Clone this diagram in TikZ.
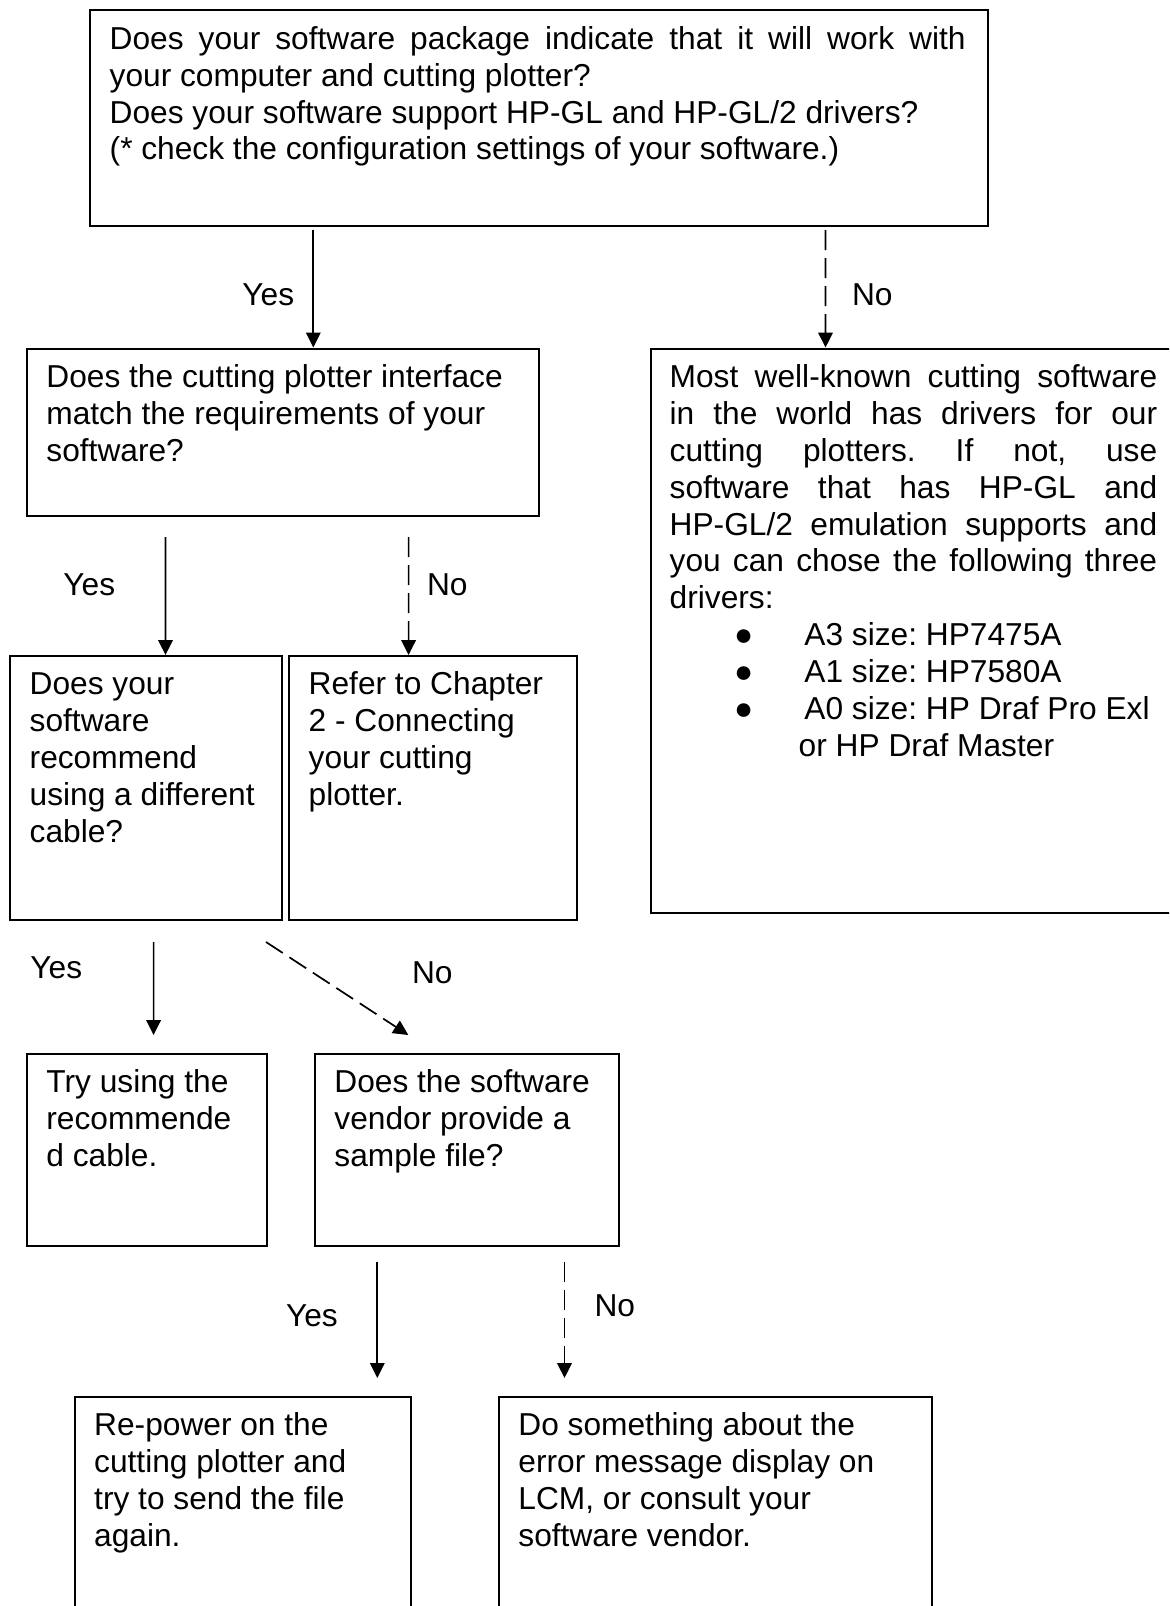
\documentclass[tikz,border=0pt]{standalone}
\usepackage{fontspec}
\setmainfont{Liberation Sans}
\usetikzlibrary{arrows.meta}
\newdimen\pxu \pxu=0.5pt
\newcommand\bodyfont{\fontsize{15.85pt}{18.45pt}\selectfont\frenchspacing}
\newcommand\jline[2]{\makebox[#1\pxu][s]{#2}}
\setlength{\parindent}{0pt}
\frenchspacing
\tikzset{
  box/.style={draw, line width=1pt, rectangle, inner sep=0pt, anchor=north west},
  txt/.style={anchor=north west, inner sep=0pt, align=left, font=\bodyfont},
  lbl/.style={anchor=base west, inner sep=0pt, font=\bodyfont},
  yesarrow/.style={line width=0.85pt, -{Triangle[length=7.5pt,width=7.3pt]}},
  noarrow/.style={yesarrow, dash pattern=on 10pt off 4pt},
}
\begin{document}
\begin{tikzpicture}[x=0.5pt,y=-0.5pt]
\useasboundingbox (0,0) rectangle (1169,1606);
\fill[white] (0,0) rectangle (1169,1606);
\clip (0,0) rectangle (1169,1606);

% boxes
\node[box, minimum width=897.3\pxu, minimum height=215.7\pxu] (b1) at (89.3,9.3) {};
\node[box, minimum width=512\pxu, minimum height=167.5\pxu] (b2) at (26,347.5) {};
\node[box, minimum width=540\pxu, minimum height=564.5\pxu] (b3) at (650,347.5) {};
\node[box, minimum width=272\pxu, minimum height=264\pxu] (b3a) at (9.3,655) {};
\node[box, minimum width=288\pxu, minimum height=264\pxu] (b3b) at (288.3,655) {};
\node[box, minimum width=240\pxu, minimum height=192.3\pxu] (b4a) at (26,1052.7) {};
\node[box, minimum width=304\pxu, minimum height=192.3\pxu] (b4b) at (314,1052.7) {};
\node[box, minimum width=336.2\pxu, minimum height=260\pxu] (b5a) at (73.8,1395.7) {};
\node[box, minimum width=432.6\pxu, minimum height=260\pxu] (b5b) at (498,1395.7) {};

% texts
\node[txt] (t1) at ([xshift=20\pxu,yshift=-13.7\pxu]b1.north west)
  {\strut\jline{856}{Does your software package indicate that it will work with}\\
   your computer and cutting plotter?\\
   Does your software support HP-GL and HP-GL/2 drivers?\\
   (* check the configuration settings of your software.)};
\node[txt] (t2) at ([xshift=20\pxu,yshift=-13.7\pxu]b2.north west)
  {\strut Does the cutting plotter interface\\
   match the requirements of your\\
   software?};
\node[txt] (t3) at ([xshift=19.3\pxu,yshift=-13.7\pxu]b3.north west)
  {\strut\jline{487.5}{Most well-known cutting software}\\
   \jline{487.5}{in the world has drivers for our}\\
   \jline{487.5}{cutting plotters. If not, use}\\
   \jline{487.5}{software that has HP-GL and}\\
   \jline{487.5}{HP-GL/2 emulation supports and}\\
   \jline{487.5}{you can chose the following three}\\
   drivers:\\
   \hspace*{64.3\pxu}\makebox[70.4\pxu][l]{●}A3 size: HP7475A\\
   \hspace*{64.3\pxu}\makebox[70.4\pxu][l]{●}A1 size: HP7580A\\
   \hspace*{64.3\pxu}\makebox[70.4\pxu][l]{●}A0 size: HP Draf Pro Exl\\
   \hspace*{129\pxu}or HP Draf Master};
\node[txt] (t3a) at ([xshift=20\pxu,yshift=-13.7\pxu]b3a.north west)
  {\strut Does your\\ software\\ recommend\\ using a different\\ cable?};
\node[txt] (t3b) at ([xshift=20\pxu,yshift=-13.7\pxu]b3b.north west)
  {\strut Refer to Chapter\\ 2 - Connecting\\ your cutting\\ plotter.};
\node[txt] (t4a) at ([xshift=20\pxu,yshift=-13.7\pxu]b4a.north west)
  {\strut Try using the\\ recommende\\ d cable.};
\node[txt] (t4b) at ([xshift=20\pxu,yshift=-13.7\pxu]b4b.north west)
  {\strut Does the software\\ vendor provide a\\ sample file?};
\node[txt] (t5a) at ([xshift=20\pxu,yshift=-13.7\pxu]b5a.north west)
  {\strut Re-power on the\\ cutting plotter and\\ try to send the file\\ again.};
\node[txt] (t5b) at ([xshift=20\pxu,yshift=-13.7\pxu]b5b.north west)
  {\strut Do something about the\\ error message display on\\ LCM, or consult your\\ software vendor.};

% connectors
\draw[yesarrow] ([xshift=224\pxu,yshift=-3\pxu]b1.south west) -- ([xshift=287.3\pxu]b2.north west);
\draw[noarrow] ([xshift=736.2\pxu,yshift=-3\pxu]b1.south west) -- ([xshift=175.5\pxu]b3.north west);
\draw[yesarrow] ([xshift=139.5\pxu,yshift=-20\pxu]b2.south west) -- ([xshift=156.2\pxu]b3a.north west);
\draw[noarrow] ([xshift=382.6\pxu,yshift=-20\pxu]b2.south west) -- ([xshift=120.3\pxu]b3b.north west);
\draw[yesarrow] ([xshift=144.3\pxu,yshift=-21\pxu]b3a.south west) -- ([xshift=127.6\pxu,yshift=17.7\pxu]b4a.north west);
\draw[noarrow] ([xshift=256.7\pxu,yshift=-21\pxu]b3a.south west) -- ([xshift=94.3\pxu,yshift=17.7\pxu]b4b.north west);
\draw[yesarrow] ([xshift=63.3\pxu,yshift=-15\pxu]b4b.south west) -- ([xshift=303.5\pxu,yshift=17.7\pxu]b5a.north west);
\draw[noarrow] ([xshift=250.5\pxu,yshift=-15\pxu]b4b.south west) -- ([xshift=66.5\pxu,yshift=17.7\pxu]b5b.north west);

% labels
\node[lbl] (l1) at (242,305) {Yes};
\node[lbl] (l2) at (851.6,305) {No};
\node[lbl] (l3) at (63,595) {Yes};
\node[lbl] (l4) at (426.6,595) {No};
\node[lbl] (l5) at (30,978) {Yes};
\node[lbl] (l6) at (411.6,983) {No};
\node[lbl] (l7) at (285.6,1326) {Yes};
\node[lbl] (l8) at (594.2,1316) {No};
\end{tikzpicture}
\end{document}
